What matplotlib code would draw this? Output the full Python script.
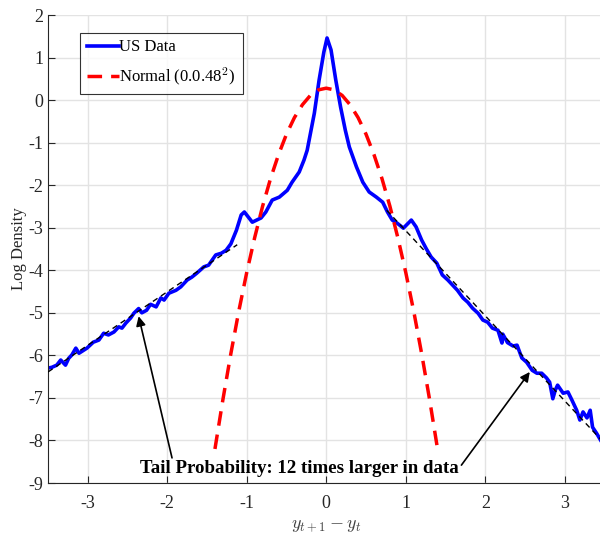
import numpy as np
import matplotlib
matplotlib.use("Agg")
import matplotlib.pyplot as plt

plt.rcParams['font.family'] = ['Liberation Serif', 'DejaVu Serif']
plt.rcParams['mathtext.fontset'] = 'cm'
plt.rcParams['axes.unicode_minus'] = False

# Empirical log density of US data
us_x = [-3.50, -3.45, -3.39, -3.34, -3.28, -3.24, -3.20, -3.15, -3.11, -3.01,
        -2.93, -2.86, -2.80, -2.74, -2.67, -2.61, -2.57, -2.52, -2.46, -2.42,
        -2.36, -2.32, -2.26, -2.21, -2.14, -2.08, -2.04, -1.98, -1.89, -1.83,
        -1.75, -1.69, -1.63, -1.54, -1.48, -1.39, -1.32, -1.26, -1.20, -1.13,
        -1.07, -1.03, -0.93, -0.82, -0.76, -0.68, -0.59, -0.49, -0.43, -0.34,
        -0.28, -0.24, -0.15, -0.09, -0.03, 0.01, 0.06, 0.12, 0.18, 0.24,
        0.29, 0.38, 0.46, 0.54, 0.63, 0.71, 0.77, 0.83, 0.89, 0.97,
        1.07, 1.13, 1.20, 1.26, 1.32, 1.39, 1.46, 1.53, 1.59, 1.65,
        1.72, 1.78, 1.84, 1.91, 1.97, 2.03, 2.09, 2.16, 2.21, 2.22,
        2.28, 2.35, 2.40, 2.46, 2.52, 2.59, 2.65, 2.71, 2.77, 2.81,
        2.85, 2.88, 2.91, 2.98, 3.04, 3.09, 3.15, 3.19, 3.23, 3.28,
        3.32, 3.35, 3.40, 3.45]
us_logd = [-6.30, -6.28, -6.23, -6.11, -6.23, -6.07, -5.99, -5.83, -5.95, -5.83,
           -5.69, -5.64, -5.48, -5.52, -5.45, -5.33, -5.36, -5.24, -5.12, -5.01,
           -4.90, -5.00, -4.94, -4.80, -4.86, -4.65, -4.70, -4.54, -4.47, -4.39,
           -4.23, -4.16, -4.07, -3.92, -3.88, -3.64, -3.60, -3.53, -3.38, -3.06,
           -2.70, -2.63, -2.87, -2.77, -2.63, -2.35, -2.28, -2.12, -1.93, -1.69,
           -1.41, -1.18, -0.31, 0.47, 1.13, 1.46, 1.18, 0.47, -0.16, -0.71,
           -1.10, -1.57, -1.93, -2.16, -2.28, -2.40, -2.63, -2.82, -2.89, -3.01,
           -2.82, -2.98, -3.29, -3.50, -3.69, -3.83, -4.11, -4.23, -4.35, -4.47,
           -4.65, -4.75, -4.89, -5.01, -5.17, -5.22, -5.36, -5.41, -5.71, -5.50,
           -5.70, -5.78, -5.76, -6.06, -6.16, -6.35, -6.42, -6.42, -6.53, -6.63,
           -7.02, -6.82, -6.70, -6.89, -6.86, -7.05, -7.29, -7.52, -7.33, -7.47,
           -7.29, -7.69, -7.83, -7.99]

# Log density of the fitted normal
norm_x = [-1.40, -1.30, -1.20, -1.10, -1.00, -0.90, -0.80, -0.70, -0.60, -0.50,
          -0.40, -0.30, -0.20, -0.10, 0.00, 0.10, 0.20, 0.30, 0.40, 0.50,
          0.60, 0.70, 0.80, 0.90, 1.00, 1.10, 1.20, 1.30, 1.40]
norm_logd = [-8.20, -7.04, -5.96, -4.96, -4.05, -3.23, -2.49, -1.84, -1.28, -0.80,
             -0.41, -0.11, 0.11, 0.24, 0.28, 0.24, 0.11, -0.11, -0.41, -0.80,
             -1.28, -1.84, -2.49, -3.23, -4.05, -4.96, -5.96, -7.04, -8.20]

# Linear tail fits
left_tail_x = [-3.50, -1.12]
left_tail_y = [-6.39, -3.40]
right_tail_x = [0.76, 3.50]
right_tail_y = [-2.59, -8.07]

xticks = [-3, -2, -1, 0, 1, 2, 3]
yticks = list(range(-9, 3))

fig = plt.figure(figsize=(6.0, 5.34), dpi=100)
ax = fig.add_axes([48 / 600, 51 / 534, 556.5 / 600, 468 / 534])

ax.plot(left_tail_x, left_tail_y, color='black', lw=1.0, dashes=(4, 3), zorder=3)
ax.plot(right_tail_x, right_tail_y, color='black', lw=1.0, dashes=(4, 3), zorder=3)
ax.plot(us_x, us_logd, color=(0, 0, 1), lw=2.6, label='US Data', zorder=2)
ax.plot(norm_x, norm_logd, color=(1, 0, 0), lw=2.5, dashes=(4.2, 2.6),
        label='Normal (0.0.48$^2$)', zorder=2)

ax.set_xlim(-3.5, 3.5)
ax.set_ylim(-9, 2)
ax.set_xticks(xticks)
ax.set_yticks(yticks)
ax.grid(True, color='#e3e3e3', lw=1.0)
ax.set_axisbelow(True)
ax.tick_params(direction='in', length=5, width=0.8, colors='#262626',
               labelsize=13, labelcolor='#262626')
ax.tick_params(axis='x', pad=9)
for s in ax.spines.values():
    s.set_color('#262626')
    s.set_linewidth(0.8)
ax.spines['top'].set_visible(False)
ax.spines['right'].set_visible(False)

ax.set_ylabel('Log Density', fontsize=12, color='#262626', labelpad=1)
ax.set_xlabel(r'$y_{t+1} - y_t$', fontsize=13, color='#404040', labelpad=3)

leg = ax.legend(loc='upper left', bbox_to_anchor=(0.058, 0.962), fontsize=12,
                frameon=True, fancybox=False, edgecolor='black',
                handlelength=1.9, handletextpad=0.05, borderpad=0.4,
                labelspacing=0.6, borderaxespad=0)
leg.get_frame().set_linewidth(0.8)

ax.annotate('', xy=(-2.36, -5.08), xytext=(-1.94, -8.41),
            arrowprops=dict(arrowstyle='-|>', color='black', lw=1.2,
                            mutation_scale=14, shrinkA=0, shrinkB=0))
ax.annotate('', xy=(2.56, -6.39), xytext=(1.70, -8.58),
            arrowprops=dict(arrowstyle='-|>', color='black', lw=1.2,
                            mutation_scale=14, shrinkA=0, shrinkB=0))
ax.text(-0.34, -8.66, 'Tail Probability: 12 times larger in data',
        ha='center', va='center', fontsize=13.6, fontweight='bold', color='black')

fig.savefig('out.png', dpi=100)
